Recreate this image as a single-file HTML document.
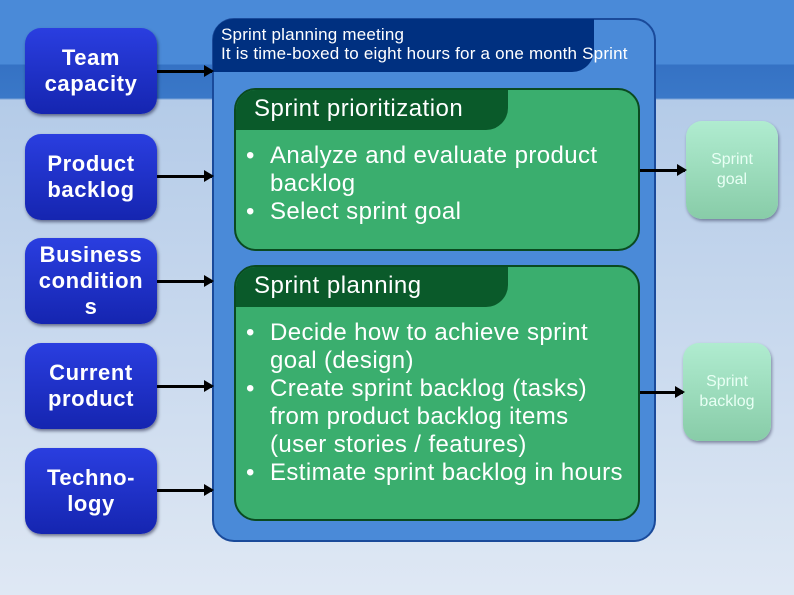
<!DOCTYPE html><html><head><style>
body{margin:0;width:794px;height:595px;position:relative;overflow:hidden;font-family:"Liberation Sans",sans-serif;
background:linear-gradient(#4a8ad8 0,#4a8ad8 64px,#3572c4 65px,#3a78c8 98px,#b4cbe8 100px,#dfe8f4 595px);}
div{position:absolute;box-sizing:border-box}
.l{left:25px;width:132px;height:86px;border-radius:16px;background:linear-gradient(#2a3ee0,#1525b0);color:#fff;font-weight:bold;font-size:22px;letter-spacing:.6px;line-height:26px;display:flex;align-items:center;justify-content:center;text-align:center;box-shadow:1px 2px 3px rgba(0,0,40,.5)}
.c{left:212px;top:18px;width:444px;height:524px;border:2px solid #1a4a9a;border-radius:22px;background:#4a8ad8}
.h{left:213px;top:19px;width:381px;height:53px;background:#003080;border-radius:20px 0 22px 0;color:#fff;font-size:17px;letter-spacing:.2px;line-height:19px;padding:6px 0 0 8px;white-space:nowrap}
.g{left:234px;width:406px;border:2px solid #0a4a20;border-radius:22px;background:#3aae6e;color:#fff;font-size:24px;letter-spacing:.4px;line-height:28px}
.gh{left:0;top:0;width:272px;height:40px;background:#0a5a2a;border-radius:20px 0 22px 0;padding:5px 0 0 18px;font-size:24px;letter-spacing:.5px}
ul{position:absolute;margin:0;padding-left:34px;list-style:none;width:362px}
li{position:relative}li:before{content:"•";position:absolute;left:-24px}
.a{height:3px;background:#000}
.a:after{content:"";position:absolute;right:-2px;top:-5px;border-left:10px solid #000;border-top:6px solid transparent;border-bottom:6px solid transparent}
.r{border-radius:16px;background:linear-gradient(#b0ecd0,#88cca8);color:#e8fff4;font-size:16px;line-height:20px;display:flex;align-items:center;justify-content:center;text-align:center;box-shadow:1px 2px 3px rgba(0,0,40,.4)}
</style></head><body>
<div class="l" style="top:28px">Team<br>capacity</div>
<div class="l" style="top:134px">Product<br>backlog</div>
<div class="l" style="top:238px">Business<br>condition<br>s</div>
<div class="l" style="top:343px">Current<br>product</div>
<div class="l" style="top:448px">Techno-<br>logy</div>
<div class="c"></div>
<div class="h">Sprint planning meeting<br>It is time-boxed to eight hours for a one month Sprint</div>
<div class="g" style="top:88px;height:163px"><div class="gh">Sprint prioritization</div>
<ul style="top:52px;left:0"><li>Analyze and evaluate product backlog</li><li>Select sprint goal</li></ul></div>
<div class="g" style="top:265px;height:256px"><div class="gh">Sprint planning</div>
<ul style="top:52px;left:0"><li>Decide how to achieve sprint goal (design)</li><li>Create sprint backlog (tasks) from product backlog items (user stories / features)</li><li>Estimate sprint backlog in hours</li></ul></div>
<div class="r" style="left:686px;top:121px;width:92px;height:98px">Sprint<br>goal</div>
<div class="r" style="left:683px;top:343px;width:88px;height:98px">Sprint<br>backlog</div>
<div class="a" style="left:157px;top:70px;width:55px"></div>
<div class="a" style="left:157px;top:175px;width:55px"></div>
<div class="a" style="left:157px;top:280px;width:55px"></div>
<div class="a" style="left:157px;top:385px;width:55px"></div>
<div class="a" style="left:157px;top:489px;width:55px"></div>
<div class="a" style="left:640px;top:169px;width:45px"></div>
<div class="a" style="left:640px;top:391px;width:43px"></div>
</body></html>
